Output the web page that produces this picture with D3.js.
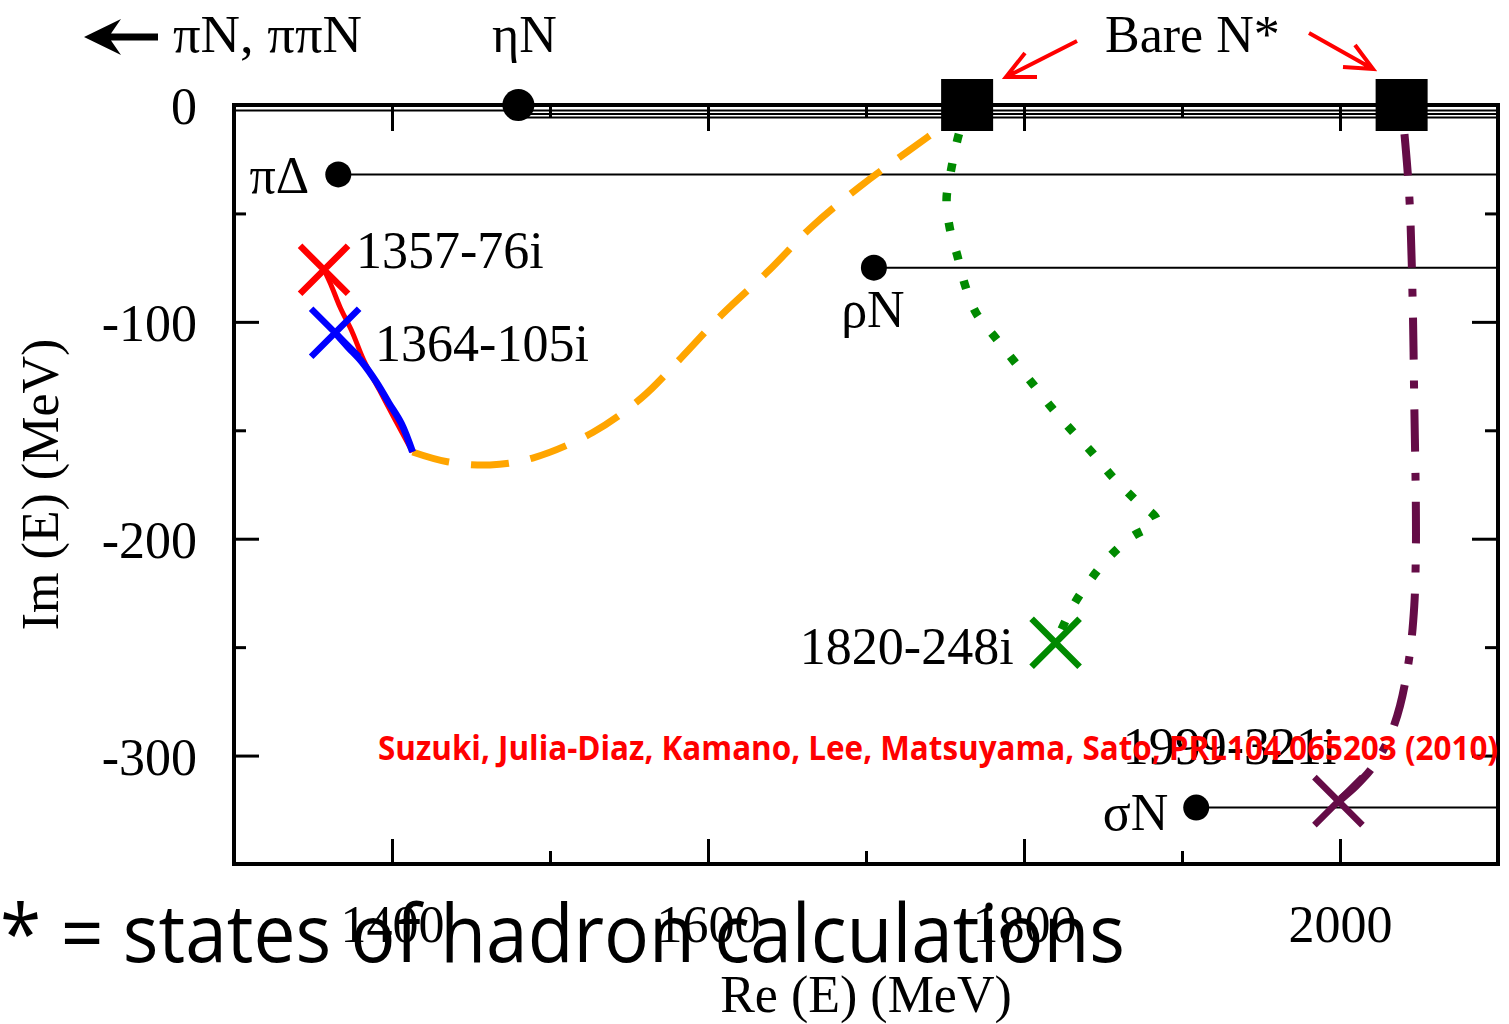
<!DOCTYPE html>
<html>
<head>
<meta charset="utf-8">
<script src="https://cdn.jsdelivr.net/npm/d3@7"></script>
<style>
  html, body { margin: 0; padding: 0; background: #fff; overflow: hidden; }
  svg { display: block; }
</style>
</head>
<body>
<svg id="chart" width="1509" height="1024"></svg>
<script>
// ---- axis ticks ----
const xTickValues = [1400, 1600, 1800, 2000];
const xMinorTicks = [1500, 1700, 1900];
const yTickValues = [0, -100, -200, -300];
const yMinorTicks = [-50, -150, -250];

// ---- bare N* masses (MeV) ----
const bareRe = [1764, 2039];
const bareIm = [0, 0];

// ---- channel thresholds (branch points) ----
const channelNames = ["ηN", "πΔ", "ρN", "σN"];
const channelRe = [1480, 1366, 1705, 1909];
const channelIm = [0, -32, -75, -324];

// ---- resonance poles ----
const poleLabels = ["1357-76i", "1364-105i", "1820-248i", "1999-321i"];
const poleRe = [1357, 1364, 1820, 1999];
const poleIm = [-76, -105, -248, -321];

// ---- pole trajectories as the coupling is switched on ----
const redTrackRe = [1357, 1362, 1367, 1375, 1382, 1392, 1402, 1413];
const redTrackIm = [-76, -84, -93, -105, -117.5, -131.4, -145.2, -160];

const blueTrackRe = [1364, 1372, 1381, 1390, 1398, 1406, 1413];
const blueTrackIm = [-105, -111.5, -118.5, -127.7, -137.4, -147, -160];

const orangeTrackRe = [1413, 1435, 1462, 1489, 1527, 1558, 1583, 1609, 1639, 1665, 1696, 1726, 1757];
const orangeTrackIm = [-160, -164.5, -166, -162.8, -151, -135, -116.6, -96.5, -76, -56.6, -37.7, -21.6, -5.5];

const greenTrackRe = [1764, 1758, 1754, 1751, 1753, 1758, 1763, 1770, 1782, 1794, 1806, 1818, 1831, 1844, 1856, 1870, 1884, 1868, 1854, 1842, 1831, 1820];
const greenTrackIm = [0, -15.6, -29.4, -43.3, -56.7, -70, -83.8, -96.3, -107.4, -118.4, -129, -140, -150.7, -161, -171.5, -181.7, -191.8, -199.2, -208.4, -219, -231, -248];

const purpleTrackRe = [2039, 2041, 2044, 2046, 2047, 2048, 2048, 2047, 2044, 2038, 2031, 2021, 2010, 1999];
const purpleTrackIm = [0, -15, -44, -91, -137, -184, -207, -231, -254, -277, -292, -305, -314, -321];

const citation = "Suzuki, Julia-Diaz, Kamano, Lee, Matsuyama, Sato, PRL104 065203 (2010)";
const footnote = "* = states of hadron calculations";

// ---- layout ----
const SERIF = "'Liberation Serif', 'Times New Roman', serif";
const SANS = "'Open Sans', 'Noto Sans', sans-serif";
const FS = 52;

const svg = d3.select("#chart");
const x = d3.scaleLinear().domain([1300, 2100]).range([234, 1498]);
const y = d3.scaleLinear().domain([-350, 0]).range([864, 105]);
const zip = (a, b) => a.map((v, i) => [v, b[i]]);
const plain = d => String(d);   // keeps the ASCII hyphen for negative values

// threshold lines, from each branch point to the right edge
const thrG = svg.append("g");
channelRe.forEach((re, i) => {
  if (channelIm[i] === 0) return;
  thrG.append("line")
    .attr("x1", x(re)).attr("x2", x(2100))
    .attr("y1", y(channelIm[i])).attr("y2", y(channelIm[i]))
    .attr("stroke", "#000").attr("stroke-width", 2);
});
// πN / ππN / ηN cuts along the real axis, drawn just under the frame
[[1300, 5.5], [1480, 9], [1480, 12.5]].forEach(([start, off]) => {
  thrG.append("line")
    .attr("x1", x(start)).attr("x2", x(2100))
    .attr("y1", y(0) + off).attr("y2", y(0) + off)
    .attr("stroke", "#000").attr("stroke-width", 1.8);
});

// frame
svg.append("rect")
  .attr("x", x(1300)).attr("y", y(0))
  .attr("width", x(2100) - x(1300)).attr("height", y(-350) - y(0))
  .attr("fill", "none").attr("stroke", "#000").attr("stroke-width", 4);

function styleAxis(g) {
  g.select(".domain").remove();
  g.selectAll(".tick line").attr("stroke", "#000").attr("stroke-width", 3);
  g.selectAll("text").attr("font-family", SERIF).attr("font-size", FS).attr("fill", "#000");
}

// bottom axis with labels
svg.append("g").attr("transform", `translate(0,${y(-350)})`)
  .call(d3.axisBottom(x).tickValues(xTickValues).tickSize(-25).tickPadding(41).tickFormat(plain))
  .call(styleAxis);
svg.append("g").attr("transform", `translate(0,${y(-350)})`)
  .call(d3.axisBottom(x).tickValues(xMinorTicks).tickSize(-13).tickFormat(""))
  .call(styleAxis);
// top axis
svg.append("g").attr("transform", `translate(0,${y(0)})`)
  .call(d3.axisTop(x).tickValues(xTickValues).tickSize(-26).tickFormat(""))
  .call(styleAxis);
svg.append("g").attr("transform", `translate(0,${y(0)})`)
  .call(d3.axisTop(x).tickValues(xMinorTicks).tickSize(-13).tickFormat(""))
  .call(styleAxis);
// left axis with labels
svg.append("g").attr("transform", `translate(${x(1300)},0)`)
  .call(d3.axisLeft(y).tickValues(yTickValues).tickSize(-25).tickPadding(37).tickFormat(plain))
  .call(styleAxis)
  .call(g => g.selectAll("text").attr("dy", "0.36em"));
svg.append("g").attr("transform", `translate(${x(1300)},0)`)
  .call(d3.axisLeft(y).tickValues(yMinorTicks).tickSize(-12).tickFormat(""))
  .call(styleAxis);
// right axis
svg.append("g").attr("transform", `translate(${x(2100)},0)`)
  .call(d3.axisRight(y).tickValues(yTickValues.filter(v => v !== 0)).tickSize(-26).tickFormat(""))
  .call(styleAxis);
svg.append("g").attr("transform", `translate(${x(2100)},0)`)
  .call(d3.axisRight(y).tickValues(yMinorTicks).tickSize(-13).tickFormat(""))
  .call(styleAxis);

// axis titles
svg.append("text")
  .attr("x", (x(1300) + x(2100)) / 2).attr("y", 1012)
  .attr("text-anchor", "middle")
  .attr("font-family", SERIF).attr("font-size", FS)
  .text("Re (E) (MeV)");
svg.append("text")
  .attr("transform", `translate(58,${(y(0) + y(-350)) / 2}) rotate(-90)`)
  .attr("text-anchor", "middle")
  .attr("font-family", SERIF).attr("font-size", FS)
  .text("Im (E) (MeV)");

// trajectories
const line = d3.line().x(d => x(d[0])).y(d => y(d[1])).curve(d3.curveCatmullRom.alpha(0.5));
const tracks = [
  { pts: zip(orangeTrackRe, orangeTrackIm), color: "#ffa500", w: 7, dash: "38,22", offset: 0 },
  { pts: zip(redTrackRe, redTrackIm), color: "#ff0000", w: 5, dash: null, offset: 0 },
  { pts: zip(blueTrackRe, blueTrackIm), color: "#0000ff", w: 7, dash: null, offset: 0 },
  { pts: zip(greenTrackRe, greenTrackIm), color: "#008a00", w: 8.5, dash: "8.5,21.5", offset: 0 },
  { pts: zip(purpleTrackRe, purpleTrackIm), color: "#650c47", w: 8, dash: "42,21,8,21", offset: 63 }
];
tracks.forEach(t => {
  svg.append("path")
    .attr("d", line(t.pts))
    .attr("fill", "none")
    .attr("stroke", t.color)
    .attr("stroke-width", t.w)
    .attr("stroke-dasharray", t.dash)
    .attr("stroke-dashoffset", t.offset);
});

// bare states
bareRe.forEach((re, i) => {
  svg.append("rect")
    .attr("x", x(re) - 26).attr("y", y(bareIm[i]) - 26)
    .attr("width", 52).attr("height", 52)
    .attr("fill", "#000");
});

// branch points
channelRe.forEach((re, i) => {
  svg.append("circle")
    .attr("cx", x(re)).attr("cy", y(channelIm[i]))
    .attr("r", i === 0 ? 16 : 13)
    .attr("fill", "#000");
});

// channel labels
const channelLabelPos = [
  { dx: 6, dy: -53, anchor: "middle" },
  { dx: -29, dy: 19, anchor: "end" },
  { dx: -1, dy: 59, anchor: "middle" },
  { dx: -28, dy: 22, anchor: "end" }
];
channelNames.forEach((name, i) => {
  svg.append("text")
    .attr("x", x(channelRe[i]) + channelLabelPos[i].dx)
    .attr("y", y(channelIm[i]) + channelLabelPos[i].dy)
    .attr("text-anchor", channelLabelPos[i].anchor)
    .attr("font-family", SERIF).attr("font-size", FS)
    .text(name);
});

// pole crosses
const poleColors = ["#ff0000", "#0000ff", "#008a00", "#650c47"];
poleRe.forEach((re, i) => {
  const cx = x(re), cy = y(poleIm[i]), h = 24;
  svg.append("path")
    .attr("d", `M${cx - h},${cy - h}L${cx + h},${cy + h}M${cx - h},${cy + h}L${cx + h},${cy - h}`)
    .attr("stroke", poleColors[i]).attr("stroke-width", 6.5).attr("fill", "none");
});

// pole labels
const poleLabelPos = [
  { dx: 32, dy: -2, anchor: "start" },
  { dx: 40, dy: 28, anchor: "start" },
  { dx: -42, dy: 21, anchor: "end" },
  { dx: -2, dy: -37, anchor: "end" }
];
poleLabels.forEach((lab, i) => {
  svg.append("text")
    .attr("x", x(poleRe[i]) + poleLabelPos[i].dx)
    .attr("y", y(poleIm[i]) + poleLabelPos[i].dy)
    .attr("text-anchor", poleLabelPos[i].anchor)
    .attr("font-family", SERIF).attr("font-size", FS)
    .text(lab);
});

// header: πN, ππN with arrow pointing to lower energies
svg.append("path")
  .attr("d", "M84,37 L121,19 L111,33.5 L158,33.5 L158,40.5 L111,40.5 L121,55 Z")
  .attr("fill", "#000");
svg.append("text")
  .attr("x", 173).attr("y", 52)
  .attr("font-family", SERIF).attr("font-size", FS)
  .attr("textLength", 189).attr("lengthAdjust", "spacingAndGlyphs")
  .text("πN, ππN");

// header: bare N* with arrows to the two squares
svg.append("text")
  .attr("x", 1105).attr("y", 52)
  .attr("font-family", SERIF).attr("font-size", FS)
  .text("Bare N*");
svg.append("path")
  .attr("d", "M1077,41 L1006,77 M1025,53 L1006,77 L1037,77")
  .attr("fill", "none").attr("stroke", "#ff0000").attr("stroke-width", 4);
svg.append("path")
  .attr("d", "M1309,33 L1373,69 M1355,45 L1373,69 L1343,67")
  .attr("fill", "none").attr("stroke", "#ff0000").attr("stroke-width", 4);

// reference
svg.append("text")
  .attr("x", 378).attr("y", 760)
  .attr("font-family", SANS).attr("font-weight", 700).attr("font-size", 34)
  .attr("fill", "#ff0000")
  .attr("textLength", 1120).attr("lengthAdjust", "spacingAndGlyphs")
  .text(citation);

// footnote line
svg.append("text")
  .attr("x", 0).attr("y", 962)
  .attr("font-family", SANS).attr("font-size", 80)
  .attr("fill", "#000")
  .attr("textLength", 1125).attr("lengthAdjust", "spacingAndGlyphs")
  .text(footnote);
</script>
</body>
</html>
